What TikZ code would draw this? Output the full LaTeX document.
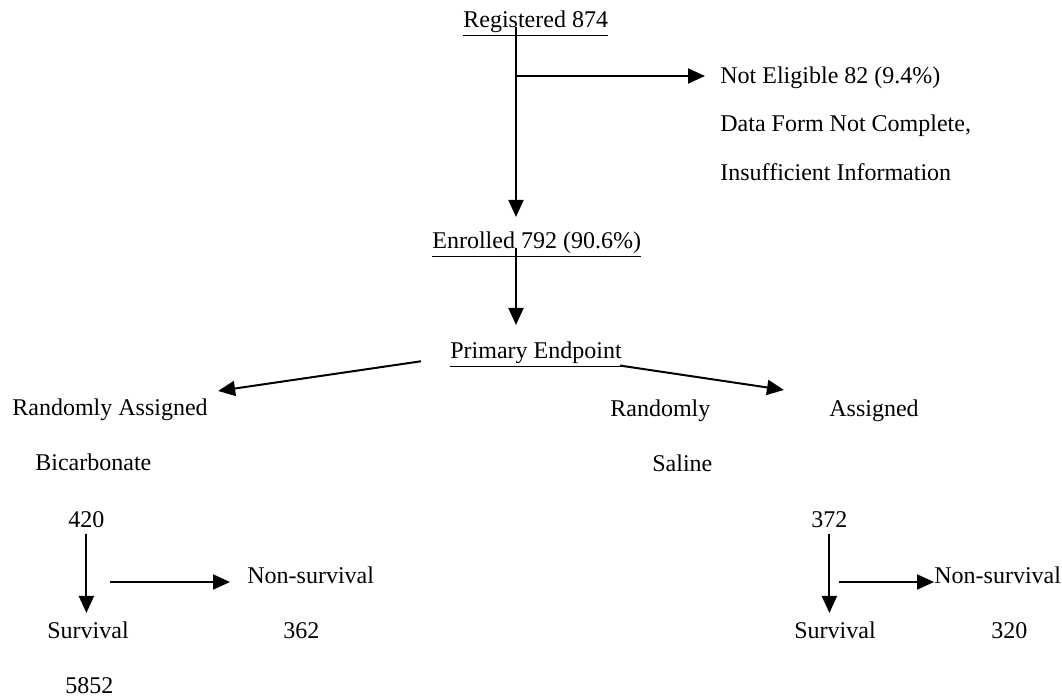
\documentclass[tikz,border=0pt]{standalone}
\usepackage{fontspec}
\setmainfont{Liberation Serif}
\usetikzlibrary{arrows.meta,positioning}

\begin{document}
\begin{tikzpicture}[
    x=0.5pt,y=-0.5pt,
    lbl/.style={inner sep=0pt,anchor=base west,font=\fontsize{12}{14}\selectfont},
    arrow/.style={-{Triangle[length=8.5pt,width=7.5pt]},line width=1pt}
  ]
    \useasboundingbox (0,0) rectangle (1062,698);
    % top of the flow
    \node[lbl] (reg) at (463,27) {\underline{Registered 874}};
    \node[lbl] (noelig) at (720,83) {Not Eligible 82 (9.4\%)};
    \node[lbl] (form) at (720,131) {Data Form Not Complete,};
    \node[lbl] (insuf) at (720,180) {Insufficient Information};
    \node[lbl] (enr) at (432,248) {\underline{Enrolled 792 (90.6\%)}};
    \node[lbl] (prim) at (450,358) {\underline{Primary Endpoint}};
    % bicarbonate arm
    \node[lbl] (rasg) at (12,415) {Randomly Assigned};
    \node[lbl] (bicarb) at (35,470) {Bicarbonate};
    \node[lbl] (bnum) at (68,527) {420};
    \node[lbl] (bnons) at (247,583) {Non-survival};
    \node[lbl] (bsurv) at (47,638) {Survival};
    \node[lbl] (bnonsn) at (283,638) {362};
    \node[lbl] (bsurvn) at (65,693) {5852};
    % saline arm
    \node[lbl] (rand) at (610,416) {Randomly};
    \node[lbl] (asg) at (829,416) {Assigned};
    \node[lbl] (saline) at (652,471) {Saline};
    \node[lbl] (snum) at (811,527) {372};
    \node[lbl] (snons) at (934,583) {Non-survival};
    \node[lbl] (ssurv) at (794,638) {Survival};
    \node[lbl] (snonsn) at (991,638) {320};

    \coordinate (split) at (516,76);
    \coordinate (bsplit) at (110,582);
    \coordinate (ssplit) at (839,582);

    \draw[arrow,shorten >=7pt] (reg.base -| split) -- (split |- enr.north);
    \draw[arrow,shorten >=7.5pt] (split) -- (split -| noelig.west);
    \draw[arrow,shorten >=8pt] (enr.base -| split) -- (split |- prim.north);
    \draw[arrow] ([shift={(-29,7)}]prim.west) -- ([shift={(10,-7)}]rasg.north east);
    \draw[arrow] ([shift={(-2,-2)}]prim.south east) -- ([shift={(-45,-9)}]asg.north west);
    \draw[arrow,shorten <=3pt,shorten >=4pt] (bnum.south) -- (bnum.south |- bsurv.north);
    \draw[arrow,shorten >=8.5pt] (bsplit) -- (bsplit -| bnons.west);
    \draw[arrow,shorten <=3pt,shorten >=4pt] (snum.south) -- (snum.south |- ssurv.north);
    \draw[arrow] (ssplit) -- (ssplit -| snons.west);
  \end{tikzpicture}
\end{document}
